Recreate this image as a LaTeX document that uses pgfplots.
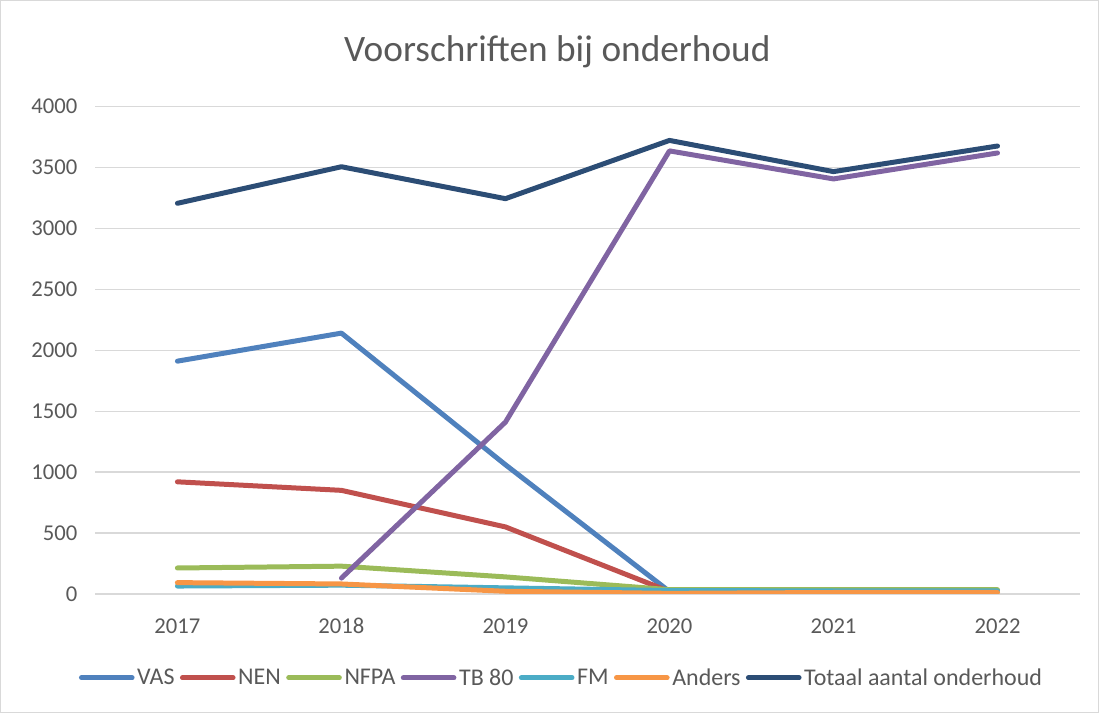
\documentclass[border=0pt]{standalone}
\usepackage{pgfplots}
\pgfplotsset{compat=1.18}
\usepackage{fontspec}
\setmainfont{Carlito}
\definecolor{cVAS}{HTML}{4F81BD}
\definecolor{cNEN}{HTML}{C0504D}
\definecolor{cNFPA}{HTML}{9BBB59}
\definecolor{cTB}{HTML}{8064A2}
\definecolor{cFM}{HTML}{4BACC6}
\definecolor{cAnd}{HTML}{F79646}
\definecolor{cTot}{HTML}{2C4D75}
\definecolor{txt}{HTML}{595959}
\definecolor{grd}{HTML}{D9D9D9}
\begin{document}
\begin{tikzpicture}
  \draw[grd, line width=0.75pt] (0,0) rectangle (824.25pt,534.75pt);
  \useasboundingbox (0,0) rectangle (824.25pt,534.75pt);
  \node[txt, font=\fontsize{28}{33}\selectfont] at (418pt,496pt) {Voorschriften bij onderhoud};
  \begin{axis}[
      at={(71.25pt,89.25pt)}, anchor=south west,
      scale only axis, width=738.75pt, height=366pt,
      xmin=-0.5, xmax=5.5, ymin=0, ymax=4000,
      xtick={0,...,5}, xticklabels={2017,2018,2019,2020,2021,2022},
      ytick={0,500,...,4000},
      ymajorgrids, grid style={grd, line width=0.9pt},
      axis line style={draw=none},
      axis x line*=bottom, axis y line*=left,
      major tick length=0pt,
      tick label style={txt, font=\fontsize{17}{20}\selectfont},
      /pgf/number format/assume math mode=true,
      /pgf/number format/1000 sep={},
      yticklabel style={xshift=-10pt},
      xticklabel style={anchor=base, yshift=-30pt},
      legend columns=-1,
      legend style={draw=none, fill=none, at={(0.474,-0.172)}, anchor=center,
        font=\fontsize{18}{21}\selectfont, text=txt,
        /tikz/every even column/.append style={column sep=2pt},
        /tikz/every odd column/.append style={column sep=0pt},
        nodes={inner xsep=2pt}},
      legend image code/.code={\draw[#1, line width=3.75pt, line cap=round] (0pt,0pt) -- (38pt,0pt);},
      every axis plot/.append style={line width=3.75pt, line join=round, line cap=round},
    ]
    \draw[grd, line width=1.2pt] (axis cs:-0.5,0) -- (axis cs:5.5,0);
    \addplot[cVAS] coordinates {(0,1910) (1,2140) (2,1060) (3,20)};
    \addlegendentry{VAS}
    \addplot[cNEN] coordinates {(0,920) (1,850) (2,550) (3,20)};
    \addlegendentry{NEN}
    \addplot[cNFPA] coordinates {(0,213) (1,228) (2,140) (3,35) (4,35) (5,35)};
    \addlegendentry{NFPA}
    \addplot[cTB] coordinates {(1,130) (2,1410) (3,3635) (4,3405) (5,3618)};
    \addlegendentry{TB 80}
    \addplot[cFM] coordinates {(0,65) (1,72) (2,50) (3,28) (4,25) (5,25)};
    \addlegendentry{FM}
    \addplot[cAnd] coordinates {(0,93) (1,82) (2,22) (3,5) (4,12) (5,12)};
    \addlegendentry{Anders}
    \addplot[cTot] coordinates {(0,3205) (1,3505) (2,3243) (3,3721) (4,3465) (5,3675)};
    \addlegendentry{Totaal aantal onderhoud}
  \end{axis}
\end{tikzpicture}
\end{document}
